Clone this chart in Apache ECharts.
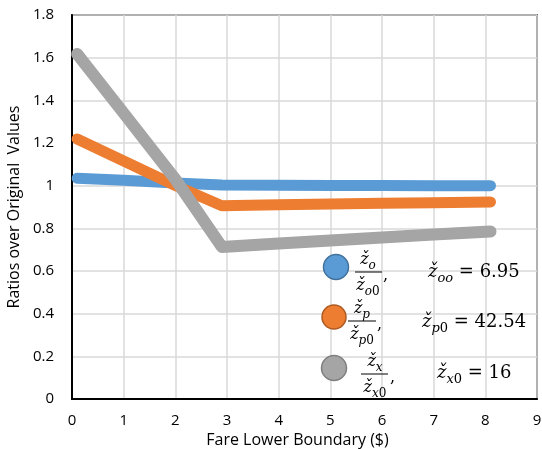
<!DOCTYPE html>
<html>
<head>
<meta charset="utf-8">
<script src="https://cdn.jsdelivr.net/npm/echarts@6/dist/echarts.min.js"></script>
<style>html,body{margin:0;padding:0;background:#fff;}#chart{width:542px;height:449px;}</style>
</head>
<body>
<div id="chart"></div>
<script>
// ---- data ----
var fareBoundary = [0.1, 1, 2, 2.9, 4, 5, 6, 7, 8.1];
var ratioO = [1.035, 1.025, 1.013, 1.003, 1.002, 1.001, 1.001, 1.0, 1.0];
var ratioP = [1.219, 1.116, 1.001, 0.906, 0.910, 0.914, 0.917, 0.920, 0.924];
var ratioX = [1.617, 1.340, 1.030, 0.713, 0.729, 0.743, 0.757, 0.771, 0.785];
var xTickLabels = ['0','1','2','3','4','5','6','7','8','9'];
var yTickLabels = ['0','0.2','0.4','0.6','0.8','1','1.2','1.4','1.6','1.8'];
var baseValues = ['6.95', '42.54', '16'];
var xAxisTitle = 'Fare Lower Boundary ($)';
var yAxisTitle = 'Ratios over Original  Values';

var BLUE = '#5b9bd5', ORANGE = '#ed7d31', GRAY = '#a5a5a5';
var SERIF = '"DejaVu Serif", "Liberation Serif", serif';
var SANS = '"Open Sans", "Noto Sans", sans-serif';

function pairs(xs, ys){ return xs.map(function(x,i){ return [x, ys[i]]; }); }

function richStyles(size){
  var sub = Math.round(size*0.72);
  return {
    m: {fontFamily: SERIF, fontStyle: 'italic', fontSize: size, lineHeight: size+8, color:'#000'},
    si: {fontFamily: SERIF, fontStyle: 'italic', fontSize: sub, lineHeight: sub+2, verticalAlign: 'bottom', color:'#000'},
    sn: {fontFamily: SERIF, fontSize: sub, lineHeight: sub+2, verticalAlign: 'bottom', color:'#000'},
    r: {fontFamily: SERIF, fontSize: size, lineHeight: size+8, color:'#000'}
  };
}
function txt(x, y, str, size, align){
  return {type:'text', x:x, y:y, z:100, style:{text:str, rich:richStyles(size), align:align||'left', verticalAlign:'middle', fill:'#000'}};
}
function legendItem(color, border, cx, cy, r, letter, fx, fy, barL, barR, commaX, vx, vy, valSub, value){
  return [
    {type:'circle', z:100, shape:{cx:cx, cy:cy, r:r}, style:{fill:color, stroke:border, lineWidth:1.5}},
    txt(fx, fy-12, '{m|ž}{si|'+letter+'}', 16, 'center'),
    {type:'line', z:100, shape:{x1:barL, y1:fy, x2:barR, y2:fy}, style:{stroke:'#000', lineWidth:1}},
    txt(fx, fy+14, '{m|ž}{si|'+letter+'}{sn|0}', 16, 'center'),
    txt(commaX, fy+4, '{r|,}', 16, 'left'),
    txt(vx, vy, valSub + '{r| = ' + value + '}', 18, 'left')
  ];
}

var graphics = [].concat(
  legendItem(BLUE, '#41719c', 336, 267, 12.5, 'o', 368, 272, 355, 382, 383, 428, 272, '{m|ž}{si|oo}', baseValues[0]),
  legendItem(ORANGE, '#ae5a21', 334, 317, 12, 'p', 362, 321, 348, 376, 377, 422, 322, '{m|ž}{si|p}{sn|0}', baseValues[1]),
  legendItem(GRAY, '#7f7f7f', 334, 368, 12.5, 'x', 375, 374, 361, 388, 390, 437, 373, '{m|ž}{si|x}{sn|0}', baseValues[2])
);

var chart = echarts.init(document.getElementById('chart'));
var lineBase = {type:'line', showSymbol:false, symbol:'none', animation:false, clip:false};
chart.setOption({
  animation: false,
  backgroundColor: '#fff',
  grid: {left: 72, right: 5, top: 15, bottom: 50, containLabel: false, outerBoundsMode: 'none',
    show: true, borderColor: '#000', borderWidth: 1.5, backgroundColor:'transparent'},
  xAxis: {
    type: 'value', min: 0, max: 9, interval: 1,
    name: xAxisTitle, nameLocation: 'middle', nameGap: 30,
    nameTextStyle: {fontFamily: SANS, fontSize: 16, color: '#000', padding: [0, 14, 0, 0]},
    axisLine: {show: true, lineStyle: {color: '#000', width: 2}},
    axisTick: {show: false},
    axisLabel: {margin: 14, fontFamily: SANS, fontSize: 15, color: '#000',
      formatter: function(v){ return xTickLabels[Math.round(v)]; }},
    splitLine: {show: true, lineStyle: {color: '#d9d9d9', width: 1.5}}
  },
  yAxis: {
    type: 'value', min: 0, max: 1.8, interval: 0.2,
    name: yAxisTitle, nameLocation: 'middle', nameGap: 45,
    nameTextStyle: {fontFamily: SANS, fontSize: 16, color: '#000'},
    axisLine: {show: true, lineStyle: {color: '#000', width: 2}},
    axisTick: {show: false},
    axisLabel: {margin: 18, fontFamily: SANS, fontSize: 15, color: '#000',
      formatter: function(v){ return yTickLabels[Math.round(v/0.2)]; }},
    splitLine: {show: true, lineStyle: {color: '#d9d9d9', width: 1.5}}
  },
  series: [
    Object.assign({}, lineBase, {name:'o', data: pairs(fareBoundary, ratioO), z:2,
      lineStyle:{color:BLUE, width:11, cap:'round', join:'round'}}),
    Object.assign({}, lineBase, {name:'p', data: pairs(fareBoundary, ratioP), z:3,
      lineStyle:{color:ORANGE, width:11, cap:'round', join:'round'}}),
    Object.assign({}, lineBase, {name:'x', data: pairs(fareBoundary, ratioX), z:4,
      lineStyle:{color:GRAY, width:12, cap:'round', join:'round'}})
  ],
  graphic: graphics
});
</script>
</body>
</html>
